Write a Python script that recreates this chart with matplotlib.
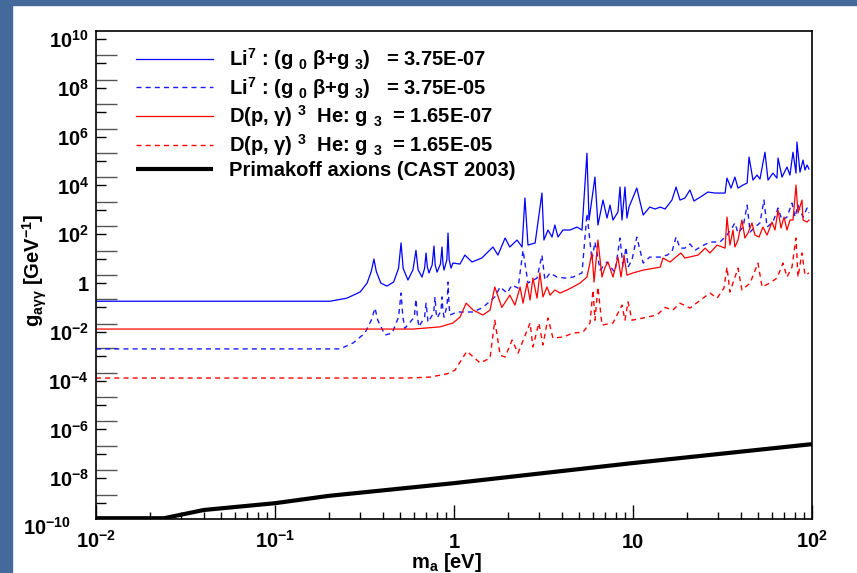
import matplotlib
matplotlib.use('Agg')
import matplotlib.pyplot as plt
import matplotlib.transforms as mtransforms
from matplotlib.ticker import FixedLocator, FuncFormatter, NullFormatter, LogLocator
from matplotlib.patches import Rectangle
import numpy as np

plt.rcParams['font.family'] = ['Liberation Sans', 'DejaVu Sans']
plt.rcParams['font.weight'] = 'bold'
plt.rcParams['mathtext.fontset'] = 'custom'
plt.rcParams['mathtext.rm'] = 'Liberation Sans:bold'
plt.rcParams['mathtext.it'] = 'Liberation Sans:bold'
plt.rcParams['mathtext.bf'] = 'Liberation Sans:bold'
plt.rcParams['mathtext.sf'] = 'Liberation Sans:bold'
plt.rcParams['mathtext.default'] = 'rm'

# ---------------- data ----------------
li7_low_m = [0.01, 0.203, 0.252, 0.299, 0.327, 0.345, 0.357, 0.368, 0.39, 0.422, 0.46, 0.49, 0.506, 0.52,
             0.553, 0.59, 0.613, 0.63, 0.663, 0.685, 0.698, 0.71, 0.725, 0.755, 0.773, 0.785, 0.804,
             0.84, 0.857, 0.868, 0.880, 0.912, 0.926, 0.94, 0.962, 0.987, 1.08, 1.15, 1.26, 1.43, 1.65,
             1.76, 1.93,
             2.05, 2.25, 2.40, 2.49, 2.59, 2.84, 3.10, 3.18, 3.35, 3.53, 3.66, 3.81, 4.06, 4.45, 4.86,
             5.19, 5.53, 5.68, 6.13, 6.37, 6.80, 7.16, 7.44, 7.73, 8.24, 8.46, 8.68, 9.02, 9.25, 9.50,
             10.5, 11.4, 12.4, 13.3, 14.2, 15.1, 16.5, 17.4, 18.3, 19.5, 20.8, 21.9, 24.3, 26.2, 28.7,
             32.7, 33.5, 35.3, 37.1, 38.6, 41.2, 43.4, 44.5, 46.8, 49.3, 51.2, 54.6, 56.8, 60.5, 63.7,
             64.6, 68.0, 72.5, 75.3, 78.3, 81.4, 82.4, 85.7, 89.1, 91.4, 93.8, 96.2]
li7_low_g = [0.18, 0.18, 0.24, 0.43, 1.0, 3.0, 9.6, 3.0, 1.0, 0.75, 1.1, 4.0, 44, 4.0,
             1.33, 3.5, 22, 3.5, 1.76, 4.0, 17, 4.5, 2.6, 5.5, 33, 5.5, 2.8,
             6.0, 30, 6.0, 3.4, 9.0, 112, 9.0, 4.1, 6.6, 6.0, 14, 7.3, 10.6, 30,
             14, 70,
             30, 58, 30, 3050, 36, 44, 4880, 58, 149, 77, 238, 77, 149, 149, 197,
             149, 2.1e5, 382, 2.2e4, 238, 2520, 461, 1570, 382, 813, 8600, 382, 8600, 461, 1300,
             7800, 612, 1300, 1080, 1300, 1080, 2520, 8600, 2520, 3050, 6500, 2300, 3680, 5370, 4880,
             4880, 2.0e4, 7800, 2.2e4, 7800, 1.04e4, 1.25e4, 1.46e5, 1.66e4, 2.67e4, 1.83e4, 2.3e5, 1.66e4, 3.2e4, 2.0e4,
             1.33e5, 2.2e4, 5.7e4, 2.67e4, 2.3e5, 3.2e4, 6.0e5, 3.5e4, 1.1e5, 4.3e4, 6.9e4, 4.7e4]

li7_high_m = [0.01, 0.231, 0.273, 0.318, 0.345, 0.362, 0.375, 0.412, 0.451, 0.49, 0.506, 0.518, 0.532,
              0.60, 0.613, 0.625, 0.637, 0.685, 0.698, 0.716, 0.77, 0.783, 0.795, 0.804, 0.845, 0.857,
              0.868, 0.880, 0.915, 0.926, 0.938, 0.950, 1.04, 1.28, 1.45, 1.69, 1.81, 1.98, 2.11, 2.28,
              2.43, 2.59, 2.91, 3.10, 3.22, 3.44, 3.76, 4.17, 4.62, 5.19, 5.53, 5.90, 6.13, 6.55, 7.16,
              7.73, 7.93, 8.46, 8.79, 9.14, 9.38, 9.87, 10.5, 11.4, 12.4, 14.2, 15.5, 16.5, 17.4, 18.3,
              19.5, 20.8, 22.2, 24.3, 26.9, 30.6, 33.5, 35.7, 37.1, 38.6, 41.2, 43.4, 45.1, 48.0, 51.2,
              53.9, 56.1, 60.5, 64.6, 68.0, 72.5, 77.3, 80.4, 83.5, 89.1, 93.8, 96.2]
li7_high_g = [0.0020, 0.0020, 0.0035, 0.0089, 0.03, 0.094, 0.03, 0.0074, 0.0089, 0.04, 0.39, 0.04, 0.014,
              0.04, 0.22, 0.04, 0.016, 0.04, 0.15, 0.025, 0.06, 0.27, 0.06, 0.037, 0.07, 0.27,
              0.07, 0.040, 0.12, 1.1, 0.12, 0.049, 0.065, 0.065, 0.10, 0.27, 0.69, 0.39, 0.83, 0.62,
              22, 1.0, 1.6, 14, 1.33, 2.6, 1.76, 1.6, 1.76, 2.6, 700, 8.8, 48, 3.4, 7.3,
              3.4, 2.8, 70, 4.5, 30, 4.5, 8.8, 77, 6.6, 11.6, 11.6, 14, 19, 77, 27,
              27, 40, 22, 33, 48, 48, 93, 180, 290, 112, 197, 1570, 123, 197, 290,
              2520, 197, 316, 1190, 382, 507, 1900, 507, 1570, 507, 1190, 740]

dpg_low_m = [0.01, 0.590, 0.835, 0.987, 1.08, 1.17, 1.28, 1.45, 1.59, 1.69, 1.85, 2.05, 2.19, 2.34, 2.43,
             2.56, 2.66, 2.76, 2.91, 3.02, 3.14, 3.31, 3.44, 3.66, 3.91, 4.28, 4.62, 5.06, 5.53, 5.90,
             6.06, 6.37, 6.71, 6.98, 7.25, 7.73, 8.24, 8.57, 8.91, 9.25, 10.0, 11.4, 14.2, 14.7, 16.1,
             18.5, 19.5, 23.1, 25.3, 26.9, 29.5, 32.7, 33.5, 34.8, 36.2, 37.1, 38.6, 40.6, 42.2, 43.9,
             46.2, 48.0, 50.6, 53.2, 56.1, 59.8, 62.1, 64.6, 67.1, 69.8, 72.5, 75.3, 78.3, 81.4, 83.5,
             87.9, 89.1, 93.8, 96.2]
dpg_low_g = [0.013, 0.013, 0.016, 0.023, 0.040, 0.15, 0.078, 0.049, 0.078, 0.69, 0.10, 0.32, 0.125, 0.69, 0.15,
             1.0, 0.20, 1.6, 0.24, 2.6, 0.27, 0.69, 0.32, 0.52, 0.39, 0.52, 0.69, 1.0, 1.76, 17,
             1.1, 58, 1.76, 4.5, 7.3, 1.76, 11.6, 1.76, 14, 2.1, 2.6, 3.4, 4.5, 10.6, 7.3,
             17, 10.6, 14, 27, 17, 36, 27, 507, 36, 149, 30, 58, 382, 70, 112,
             290, 93, 77, 197, 93, 316, 149, 980, 180, 507, 149, 382, 382, 1.04e4, 740,
             2520, 382, 316, 382]

dpg_high_m = [0.01, 0.546, 0.734, 0.914, 1.013, 1.18, 1.40, 1.59, 1.69, 1.81, 1.93, 2.11, 2.28, 2.66,
              2.76, 2.98, 3.14, 3.35, 3.57, 4.06, 4.62, 5.26, 5.75, 5.98, 6.13, 6.37, 6.71, 7.73, 8.68,
              9.02, 9.38, 9.87, 11.4, 13.6, 15.1, 16.7, 18.3, 20.8, 23.1, 26.9, 29.5, 32.2, 33.5, 34.8,
              38.6, 40.6, 45.1, 49.9, 52.6, 58.2, 63.7, 68.9, 72.5, 77.3, 81.4, 83.5, 87.9, 91.4, 96.2]
dpg_high_g = [1.28e-4, 1.28e-4, 1.4e-4, 1.9e-4, 2.7e-4, 1.6e-3, 5.3e-4, 8.4e-4, 0.030, 1.1e-3, 9.3e-4, 4.6e-3, 1.35e-3, 0.023,
              2.4e-3, 0.023, 2.9e-3, 0.037, 5.6e-3, 6.1e-3, 8.9e-3, 9.8e-3, 0.023, 0.52, 0.030, 0.69, 0.019, 0.023, 0.125,
              0.030, 0.17, 0.030, 0.037, 0.049, 0.10, 0.078, 0.15, 0.094, 0.17, 0.39, 0.24, 0.62, 4.5, 0.43,
              4.1, 0.52, 1.0, 6.6, 0.69, 1.0, 1.6, 6.6, 1.76, 4.5, 70, 1.76, 17, 2.1, 2.6]

cast_m = [0.01, 0.024, 0.04, 0.1, 0.2, 1.0, 10, 100]
cast_g = [2.3e-10, 2.3e-10, 5.0e-10, 9.5e-10, 1.9e-9, 6.3e-9, 4.2e-8, 2.5e-7]

labels = [r'Li$^{7}$ : (g $_{0}$ β+g $_{3}$)   = 3.75E-07',
          r'Li$^{7}$ : (g $_{0}$ β+g $_{3}$)   = 3.75E-05',
          r'D(p, γ) $^{3}$  He: g $_{3}$  = 1.65E-07',
          r'D(p, γ) $^{3}$  He: g $_{3}$  = 1.65E-05',
          'Primakoff axions (CAST 2003)']

FS = 14.5

# ---------------- figure ----------------
W, H = 857, 573
fig = plt.figure(figsize=(W / 100, H / 100), dpi=100, facecolor='white')
bg = '#44699b'
fig.patches.append(Rectangle((0, 0), 12 / W, 1, transform=fig.transFigure, color=bg, zorder=-5))
fig.patches.append(Rectangle((0, 1 - 5 / H), 1, 5 / H, transform=fig.transFigure, color=bg, zorder=-5))

ax = fig.add_axes([96 / W, 1 - 519 / H, (812 - 96) / W, (519 - 31) / H])
ax.set_xscale('log')
ax.set_yscale('log')

dash = (0, (3.6, 3.0))
ax.plot(li7_low_m, li7_low_g, color='#0000ff', lw=0.9, label=labels[0])
ax.plot(li7_high_m, li7_high_g, color='#1a1aff', lw=1.0, ls=dash, label=labels[1])
ax.plot(dpg_low_m, dpg_low_g, color='#ff0000', lw=0.9, label=labels[2])
ax.plot(dpg_high_m, dpg_high_g, color='#ff0000', lw=1.0, ls=dash, label=labels[3])
ax.plot(cast_m, cast_g, color='black', lw=3.0, label=labels[4], solid_capstyle='butt')

ax.set_xlim(1e-2, 1e2)
ax.set_ylim(10 ** -9.67, 10 ** 10.33)


def xfmt(v, pos):
    n = int(round(np.log10(v)))
    if n == 0:
        return '1'
    if n == 1:
        return '10'
    return r'10$^{%d}$' % n


def yfmt(v, pos):
    n = int(round(np.log10(v)))
    if n % 2:
        return ''
    if n == 0:
        return '1'
    return r'10$^{%d}$' % n


ax.xaxis.set_major_locator(FixedLocator([1e-2, 1e-1, 1, 10, 100]))
ax.xaxis.set_minor_locator(LogLocator(base=10, subs=np.arange(2, 10)))
ax.xaxis.set_major_formatter(FuncFormatter(xfmt))
ax.xaxis.set_minor_formatter(NullFormatter())

ax.yaxis.set_major_locator(FixedLocator([10.0 ** n for n in range(-10, 11)]))
ax.yaxis.set_minor_locator(FixedLocator([10.0 ** (n + 0.328) for n in range(-10, 10)]))
ax.yaxis.set_major_formatter(FuncFormatter(yfmt))
ax.yaxis.set_minor_formatter(NullFormatter())

ax.tick_params(axis='x', which='major', direction='in', length=10, width=1.0, labelsize=FS, pad=21,
               top=False)
ax.tick_params(axis='x', which='minor', direction='in', length=5, width=1.0, top=False)
ax.tick_params(axis='y', which='major', direction='in', length=7, width=1.0, labelsize=FS, pad=5,
               right=False)
ax.tick_params(axis='y', which='minor', direction='in', length=15, width=1.0, color='#555555',
               right=False)
for t in ax.xaxis.get_major_ticks():
    t.label1.set_verticalalignment('baseline')

# the lowest decade label sits just below the frame, as in the reference
trans = mtransforms.blended_transform_factory(ax.transAxes, ax.transData)
ax.text(-0.035, 10 ** -9.95, r'10$^{-10}$', transform=trans, ha='right', va='center_baseline',
        fontsize=FS, clip_on=False)

for s in ax.spines.values():
    s.set_linewidth(1.2)

ax.set_xlabel(r'm$_{a}$ [eV]', fontsize=FS, fontweight='bold')
ax.xaxis.set_label_coords(0.49, -0.066)
ax.set_ylabel(r'g$_{aγγ}$ [GeV$^{-1}$]', fontsize=FS, fontweight='bold')
ax.yaxis.set_label_coords(-0.066, 0.51)

ax.legend(loc='upper left', bbox_to_anchor=(0.056, 0.969), frameon=False, fontsize=FS,
          handlelength=3.8, handletextpad=0.8, labelspacing=0.14, borderpad=0, borderaxespad=0)

fig.savefig('out.png', dpi=100, facecolor=fig.get_facecolor())
